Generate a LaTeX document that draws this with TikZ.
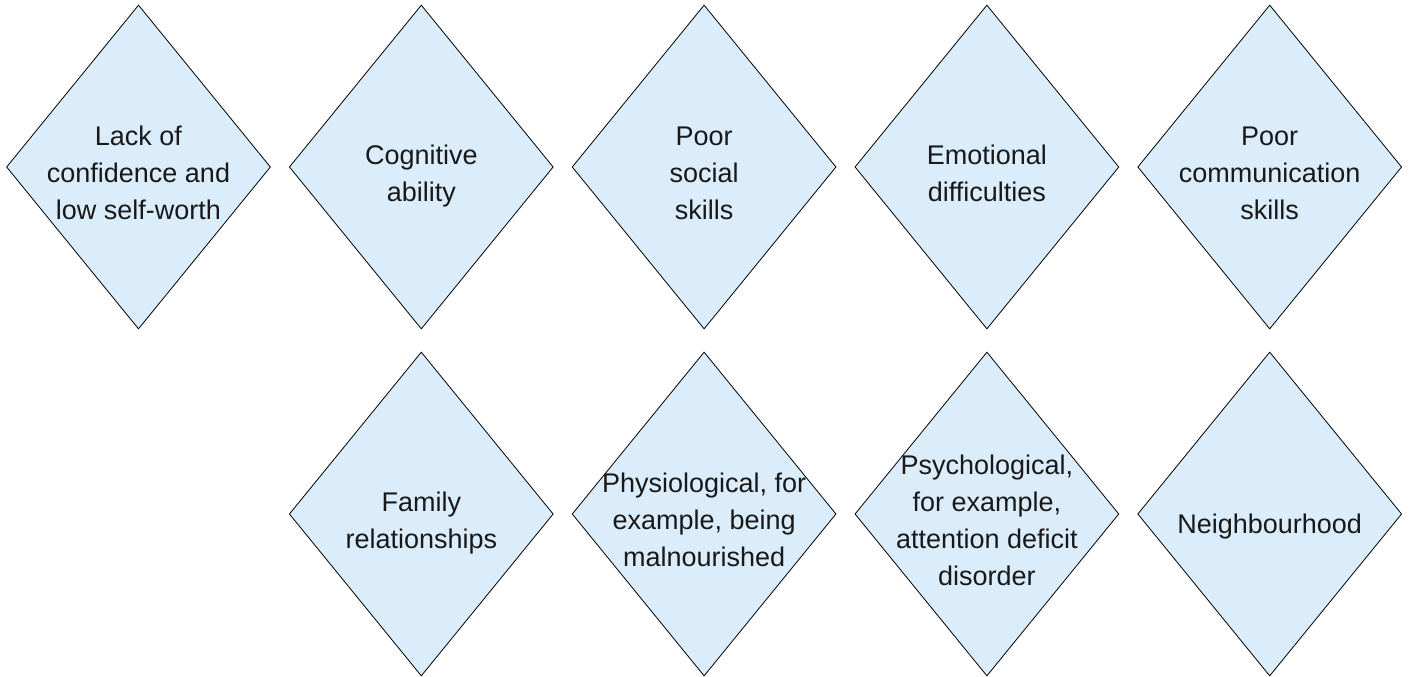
\documentclass[tikz,border=0pt]{standalone}
\usepackage{fontspec}
\setmainfont{Liberation Sans}
\usetikzlibrary{shapes,positioning}
\definecolor{factorfill}{RGB}{219,237,251}

\begin{document}
\begin{tikzpicture}[x=1pt, y=-1pt]
        \tikzset{
            factor/.style={diamond, draw=black, line width=0.8pt, fill=factorfill,
                inner sep=0pt, minimum width=264pt, minimum height=324pt},
            factortext/.style={align=center, inner sep=0pt, text=black!90,
                font=\fontsize{27}{37}\selectfont,
                execute at begin node=\strut, execute at end node=\strut}
        }
        \useasboundingbox (0, 0) rectangle (1409, 677);

        % top row
        \begin{scope}
            \node[factor] (A1) at (138.5, 167) {};
            \node[factor] (A2) at (421.3, 167) {};
            \node[factor] (A3) at (704.1, 167) {};
            \node[factor] (A4) at (986.9, 167) {};
            \node[factor] (A5) at (1269.7, 167) {};
        \end{scope}

        % bottom row, no first column
        \begin{scope}
            \node[factor] (B2) at (421.3, 514) {};
            \node[factor] (B3) at (704.1, 514) {};
            \node[factor] (B4) at (986.9, 514) {};
            \node[factor] (B5) at (1269.7, 514) {};
        \end{scope}

        \begin{scope}[factortext]
            \node (A1t) at ([yshift=-11.6pt]A1.center)
            {Lack of\\confidence and\\low self-worth};
            \node (A2t) at ([yshift=-11.6pt]A2.center)
            {Cognitive\\ability};
            \node (A3t) at ([yshift=-11.6pt]A3.center)
            {Poor\\social\\skills};
            \node (A4t) at ([yshift=-11.6pt]A4.center)
            {Emotional\\difficulties};
            \node (A5t) at ([yshift=-11.6pt]A5.center)
            {Poor\\communication\\skills};
            \node (B2t) at ([yshift=-11.6pt]B2.center)
            {Family\\relationships};
            \node (B3t) at ([yshift=-11.6pt]B3.center)
            {Physiological, for\\example, being\\malnourished};
            \node (B4t) at ([yshift=-11.6pt]B4.center)
            {Psychological,\\for example,\\attention deficit\\disorder};
            \node (B5t) at ([yshift=-11.6pt]B5.center)
            {Neighbourhood};
        \end{scope}

\end{tikzpicture}
\end{document}
